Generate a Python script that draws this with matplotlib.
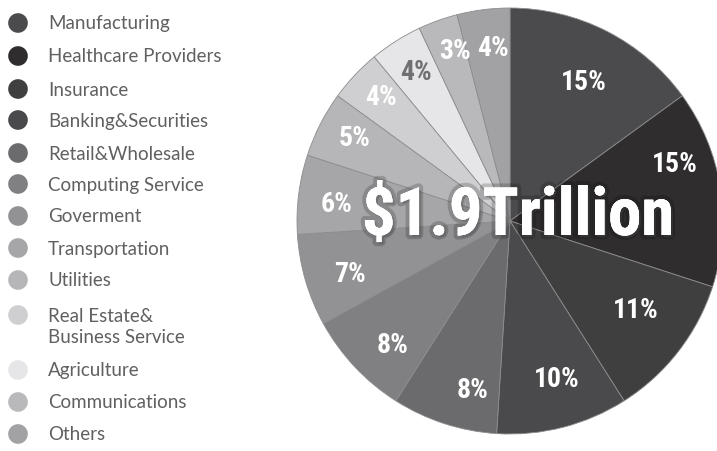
import numpy as np
import matplotlib
matplotlib.use("Agg")
import matplotlib.pyplot as plt
import matplotlib.patheffects as pe
from matplotlib import font_manager

# Industry share of the total, clockwise from 12 o'clock
sectors = ["Manufacturing", "Healthcare Providers", "Insurance", "Banking&Securities",
           "Retail&Wholesale", "Computing Service", "Goverment", "Transportation",
           "Utilities", "Real Estate&\nBusiness Service", "Agriculture",
           "Communications", "Others"]
shares = [15, 15, 11, 10, 8, 8, 7, 6, 5, 4, 4, 3, 4]
colors = ["#4b4b4d", "#2f2d2e", "#3f3f40", "#4a4a4c", "#6b6b6e", "#808083",
          "#929295", "#a6a6a9", "#b6b6b9", "#cfcfd1", "#e6e6e8", "#b9b9bc", "#a2a2a5"]
# where each % label sits inside its wedge: fraction along the arc, fraction of radius
label_frac = [0.52, 0.31, 0.43, 0.44, 0.31, 0.39, 0.42, 0.43, 0.57, 0.56, 0.53, 0.67, 0.61]
label_dist = [0.74, 0.82, 0.72, 0.77, 0.81, 0.80, 0.79, 0.82, 0.83, 0.84, 0.83, 0.84, 0.82]
total = "$1.9Trillion"

names = {f.name for f in font_manager.fontManager.ttflist}
narrow, stretch = "DejaVu Sans", "condensed"
for cand in ["Roboto Condensed", "Liberation Sans Narrow", "DejaVu Sans Condensed"]:
    if cand in names:
        narrow, stretch = cand, "normal"
        break

fig = plt.figure(figsize=(7.17, 4.52), dpi=100)
ax = fig.add_axes([0, 0, 1, 1])

cx, cy, R = 510, 230, 213
wedges, _ = ax.pie(shares, colors=colors, startangle=90, counterclock=False,
                   center=(cx, cy), radius=R, frame=True,
                   wedgeprops=dict(edgecolor="#8c8c8e", linewidth=0.6))
ax.set_xlim(0, 717)
ax.set_ylim(0, 452)
ax.axis("off")

for w, s, f, d in zip(wedges, shares, label_frac, label_dist):
    # wedges run clockwise, so theta2 is the leading edge
    ang = np.deg2rad(w.theta2 - f * (w.theta2 - w.theta1))
    tc = "#707073" if w.get_facecolor()[0] > 0.85 else "white"
    ax.text(cx + d * R * np.cos(ang), cy + d * R * np.sin(ang), f"{s}%",
            ha="center", va="center", color=tc, fontsize=20, fontweight="bold",
            family=narrow, fontstretch=stretch)

ax.text(cx + 8, cy + 4, total, ha="center", va="center", color="white",
        fontsize=48, fontweight="bold", family=narrow, fontstretch=stretch,
        path_effects=[pe.withStroke(linewidth=6, foreground=(0, 0, 0, 0.18)),
                      pe.withSimplePatchShadow(offset=(1.5, -1.5), alpha=0.35),
                      pe.Normal()])

# legend column on the left
rows_y = [24, 57, 90, 121, 154, 185, 217, 249, 281, 316, 371, 403, 435]
for name, c, y in zip(sectors, colors, rows_y):
    ax.scatter(18, 452 - y, s=200, color=c, edgecolors="none")
    ax.text(48, 452 - y + (0 if "\n" not in name else -11), name,
            ha="left", va="center", color="#606060", fontsize=13.5,
            family="Lato", linespacing=1.3)

fig.savefig("out.png", dpi=100)
